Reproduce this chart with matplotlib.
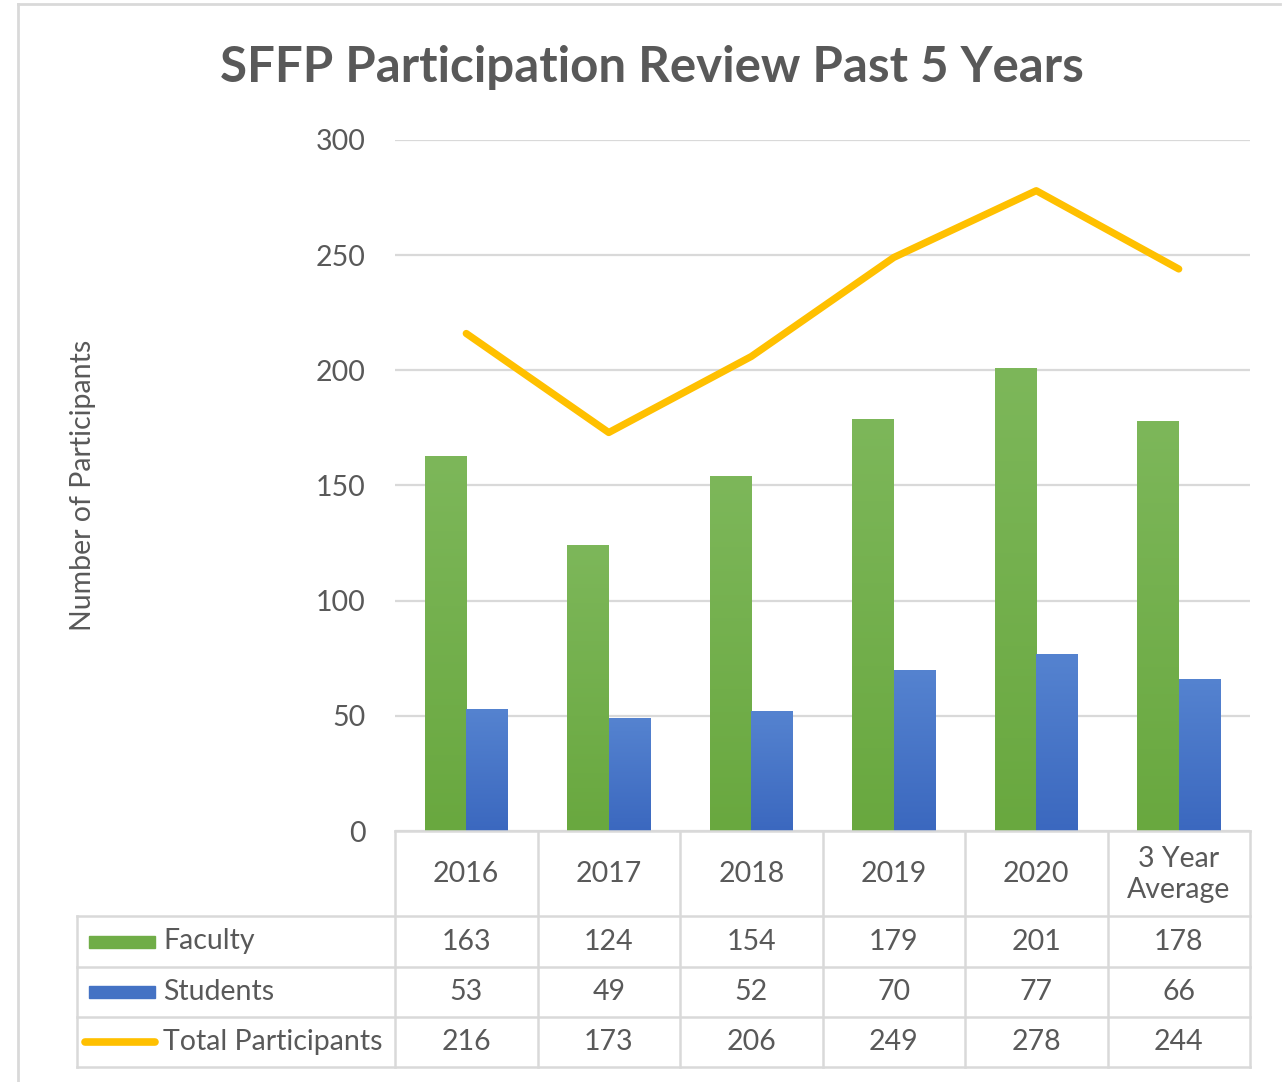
import matplotlib.pyplot as plt
import numpy as np

categories = ["2016", "2017", "2018", "2019", "2020", "3 Year\nAverage"]
faculty = [163, 124, 154, 179, 201, 178]
students = [53, 49, 52, 70, 77, 66]
total = [216, 173, 206, 249, 278, 244]
series_names = ["Faculty", "Students", "Total Participants"]

GREEN = "#70AD47"
BLUE = "#4472C4"
YELLOW = "#FFC000"
GRID = "#D9D9D9"
TEXT = "#595959"

plt.rcParams["font.family"] = ["Lato", "DejaVu Sans"]

W, H = 1284, 1082
fig = plt.figure(figsize=(W / 100, H / 100), dpi=100)

# plot area in pixels
px_left, px_right, px_top, px_bottom = 395, 1250, 140, 831
ax = fig.add_axes([px_left / W, 1 - px_bottom / H,
                   (px_right - px_left) / W, (px_bottom - px_top) / H])

x = np.arange(len(categories))
bw = 0.29
bars_f = ax.bar(x - bw / 2, faculty, bw, color=GREEN, zorder=2)
bars_s = ax.bar(x + bw / 2, students, bw, color=BLUE, zorder=2)


def shade(bars, top, bottom):
    # soft vertical gradient like the office chart fill
    from matplotlib.colors import LinearSegmentedColormap
    cmap = LinearSegmentedColormap.from_list("g", [bottom, top])
    grad = np.linspace(0, 1, 256).reshape(-1, 1)
    for b in bars:
        x0, y0, w, h = b.get_x(), b.get_y(), b.get_width(), b.get_height()
        im = ax.imshow(grad, extent=(x0, x0 + w, y0, y0 + h), origin="lower",
                       aspect="auto", cmap=cmap, zorder=2.1)
        im.set_clip_path(b)


shade(bars_f, "#7DB75A", "#69A83F")
shade(bars_s, "#5583D0", "#3B68BF")

ax.plot(x, total, color=YELLOW, lw=5.2, solid_capstyle="round",
        solid_joinstyle="round", zorder=3)

ax.set_xlim(-0.5, len(categories) - 0.5)
ax.set_ylim(0, 300)
ax.set_yticks(range(0, 301, 50))
ax.set_xticks([])
ax.grid(axis="y", color=GRID, lw=1.6, zorder=0)
ax.tick_params(axis="y", length=0, pad=21, labelsize=20.5, labelcolor=TEXT)
for s in ax.spines.values():
    s.set_visible(False)

# data table below the plot, sharing the x scale
tbl_left, tbl_bottom = 77, 1067
col_w = (px_right - px_left) / len(categories)
x_left = -0.5 - (px_left - tbl_left) / col_w
tax = fig.add_axes([tbl_left / W, 1 - tbl_bottom / H,
                    (px_right - tbl_left) / W, (tbl_bottom - px_bottom) / H])
tax.set_xlim(x_left, len(categories) - 0.5)
tax.set_ylim(tbl_bottom - px_bottom, 0)
tax.axis("off")

row_edges = [0, 85, 136, 186, 236]
lw = 1.8
tax.plot([-0.5, len(categories) - 0.5], [0, 0], color=GRID, lw=lw, clip_on=False)
for yy in row_edges[1:]:
    tax.plot([x_left, len(categories) - 0.5], [yy, yy], color=GRID, lw=lw, clip_on=False)
for i in range(len(categories) + 1):
    tax.plot([i - 0.5, i - 0.5], [0, row_edges[-1]], color=GRID, lw=lw, clip_on=False)
tax.plot([x_left, x_left], [row_edges[1], row_edges[-1]], color=GRID, lw=lw, clip_on=False)

fs = 20.5
for i, c in enumerate(categories):
    tax.text(i, (row_edges[0] + row_edges[1]) / 2 + 1, c, ha="center", va="center",
             fontsize=fs, color=TEXT, linespacing=1.25)

rows = [faculty, students, total]
for r, vals in enumerate(rows):
    yc = (row_edges[r + 1] + row_edges[r + 2]) / 2
    for i, v in enumerate(vals):
        tax.text(i, yc, str(v), ha="center", va="center", fontsize=fs, color=TEXT)

# legend keys in the row-header column
key_x0 = x_left + 12 / col_w
key_x1 = x_left + 78 / col_w
label_x = x_left + 86 / col_w
keys = [GREEN, BLUE, YELLOW]
for r, (name, col) in enumerate(zip(series_names, keys)):
    yc = (row_edges[r + 1] + row_edges[r + 2]) / 2
    if r < 2:
        tax.add_patch(plt.Rectangle((key_x0, yc - 6), key_x1 - key_x0, 12,
                                    color=col, clip_on=False))
    else:
        tax.plot([key_x0 - 4 / col_w, key_x1], [yc, yc], color=col, lw=5.5,
                 solid_capstyle="round", clip_on=False)
    tax.text(label_x, yc, name, ha="left", va="center", fontsize=fs, color=TEXT)

fig.text(652 / W, 1 - 67 / H, "SFFP Participation Review Past 5 Years",
         ha="center", va="center", fontsize=35.5, fontweight="bold", color=TEXT)
fig.text(83 / W, 1 - 485 / H, "Number of Participants", ha="center", va="center",
         rotation=90, fontsize=20.5, color=TEXT)

# chart border
fig.add_artist(plt.Line2D([18 / W, 18 / W], [0, 1 - 4 / H], color=GRID, lw=2))
fig.add_artist(plt.Line2D([18 / W, 1280 / W], [1 - 4 / H, 1 - 4 / H], color=GRID, lw=2))

fig.savefig("out.png", dpi=100)
